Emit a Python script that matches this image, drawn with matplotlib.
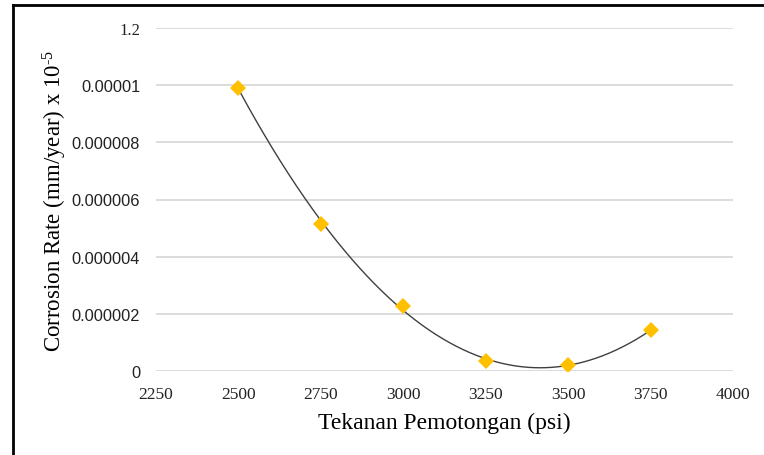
import numpy as np
import matplotlib
matplotlib.use("Agg")
import matplotlib.pyplot as plt
from matplotlib.lines import Line2D
from matplotlib.ticker import FixedLocator, FixedFormatter

plt.rcParams['font.family'] = ['Liberation Serif', 'DejaVu Serif']
plt.rcParams['mathtext.fontset'] = 'custom'
plt.rcParams['mathtext.rm'] = 'Liberation Serif'
plt.rcParams['mathtext.it'] = 'Liberation Serif:italic'

# Cutting pressure (psi) and measured corrosion rate (mm/year)
pressure = [2500, 2750, 3000, 3250, 3500, 3750]
corrosion_rate = [9.9e-6, 5.14e-6, 2.28e-6, 0.35e-6, 0.20e-6, 1.43e-6]

x_ticks = [2250, 2500, 2750, 3000, 3250, 3500, 3750, 4000]
y_ticks = [0, 2e-6, 4e-6, 6e-6, 8e-6, 1e-5, 1.2e-5]
y_tick_labels = ["0", "0.000002", "0.000004", "0.000006", "0.000008", "0.00001", "1.2"]

fig = plt.figure(figsize=(7.64, 4.56), dpi=100)
ax = fig.add_axes([156 / 764, 1 - 372 / 456, (733 - 156) / 764, (372 - 29) / 456])

# Second-order polynomial trendline
coef = np.polyfit(pressure, corrosion_rate, 2)
xs = np.linspace(min(pressure), max(pressure), 300)
ax.plot(xs, np.polyval(coef, xs), color="#404040", lw=1.0, zorder=3)

ax.plot(pressure, corrosion_rate, linestyle="none", marker="D", markersize=8,
        color="#FFC000", markeredgewidth=0, zorder=4)

ax.set_xlim(2250, 4000)
ax.set_ylim(0, 1.2e-5)
ax.xaxis.set_major_locator(FixedLocator(x_ticks))
ax.yaxis.set_major_locator(FixedLocator(y_ticks))
ax.yaxis.set_major_formatter(FixedFormatter(y_tick_labels))
ax.grid(axis="y", color="#D9D9D9", lw=1.3)
ax.set_axisbelow(True)
for s in ax.spines.values():
    s.set_visible(False)
ax.tick_params(axis="both", length=0, colors="#222222")
ax.tick_params(axis="y", pad=11.5, labelsize=11.8)
ax.tick_params(axis="x", pad=11, labelsize=12.5)
for lbl in ax.get_yticklabels():
    if lbl.get_text() != "1.2":
        lbl.set_fontfamily(["Liberation Sans", "DejaVu Sans"])
    else:
        lbl.set_fontsize(12)

ax.set_xlabel("Tekanan Pemotongan (psi)", fontsize=17, labelpad=7)
ax.set_ylabel(r"Corrosion Rate (mm/year) x 10$^{\text{-}5}$", fontsize=16.5, labelpad=2)

# Outer frame lines along the top and left edges
fig.add_artist(Line2D([13 / 764, 13 / 764], [0, 1 - 6 / 456], color="black", lw=2,
                      transform=fig.transFigure))
fig.add_artist(Line2D([13 / 764, 1], [1 - 6 / 456, 1 - 6 / 456], color="black", lw=2,
                      transform=fig.transFigure))

fig.savefig("out.png", dpi=100)
